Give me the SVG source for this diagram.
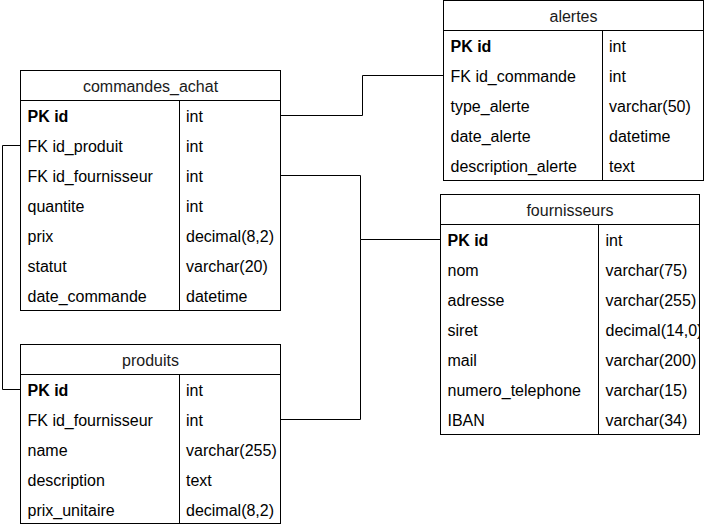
<svg xmlns="http://www.w3.org/2000/svg" width="705" height="525" viewBox="0 0 705 525">
<style>
.box{fill:#fff;stroke:#000;stroke-width:1}
.ln{fill:none;stroke:#000;stroke-width:1}
text{font-family:"Liberation Sans",Arial,sans-serif;font-size:16px;fill:#000}
.t{text-anchor:middle;fill:#1a1a1a}
.b{font-weight:bold}
.c{fill:none;stroke:#000;stroke-width:1}
</style>
<defs>
<clipPath id="clipF"><rect x="441" y="195" width="258" height="239"/></clipPath>
</defs>
<rect x="0" y="0" width="705" height="525" fill="#fff"/>
<g id="connectors">
<path class="c" d="M280.5 115.5 H362.5 V75.5 H443.5"/>
<path class="c" d="M280.5 175.5 H360.5 V239.5 H440.5"/>
<path class="c" d="M280.5 419.5 H360.5 V239.5"/>
<path class="c" d="M20.5 145.5 H2.5 V389.5 H20.5"/>
</g>
<g id="commandes_achat">
<rect class="box" x="20.5" y="70.5" width="260" height="240"/>
<line class="ln" x1="20.5" y1="100.5" x2="280.5" y2="100.5"/>
<line class="ln" x1="179.5" y1="100.5" x2="179.5" y2="310.5"/>
<text class="t" x="150.5" y="92">commandes_achat</text>
<text class="b" x="27.5" y="122">PK id</text><text x="186" y="122">int</text>
<text x="27.5" y="152">FK id_produit</text><text x="186" y="152">int</text>
<text x="27.5" y="182">FK id_fournisseur</text><text x="186" y="182">int</text>
<text x="27.5" y="212">quantite</text><text x="186" y="212">int</text>
<text x="27.5" y="242">prix</text><text x="186" y="242">decimal(8,2)</text>
<text x="27.5" y="272">statut</text><text x="186" y="272">varchar(20)</text>
<text x="27.5" y="302">date_commande</text><text x="186" y="302">datetime</text>
</g>
<g id="alertes">
<rect class="box" x="443.5" y="0.5" width="260" height="180"/>
<line class="ln" x1="443.5" y1="30.5" x2="703.5" y2="30.5"/>
<line class="ln" x1="602.5" y1="30.5" x2="602.5" y2="180.5"/>
<text class="t" x="573.5" y="22">alertes</text>
<text class="b" x="450.5" y="52">PK id</text><text x="609" y="52">int</text>
<text x="450.5" y="82">FK id_commande</text><text x="609" y="82">int</text>
<text x="450.5" y="112">type_alerte</text><text x="609" y="112">varchar(50)</text>
<text x="450.5" y="142">date_alerte</text><text x="609" y="142">datetime</text>
<text x="450.5" y="172">description_alerte</text><text x="609" y="172">text</text>
</g>
<g id="fournisseurs">
<rect class="box" x="440.5" y="194.5" width="259" height="240"/>
<line class="ln" x1="440.5" y1="224.5" x2="699.5" y2="224.5"/>
<line class="ln" x1="598.5" y1="224.5" x2="598.5" y2="434.5"/>
<text class="t" x="570" y="216">fournisseurs</text>
<g clip-path="url(#clipF)">
<text class="b" x="447.5" y="246">PK id</text><text x="605.5" y="246">int</text>
<text x="447.5" y="276">nom</text><text x="605.5" y="276">varchar(75)</text>
<text x="447.5" y="306">adresse</text><text x="605.5" y="306">varchar(255)</text>
<text x="447.5" y="336">siret</text><text x="605.5" y="336">decimal(14,0)</text>
<text x="447.5" y="366">mail</text><text x="605.5" y="366">varchar(200)</text>
<text x="447.5" y="396">numero_telephone</text><text x="605.5" y="396">varchar(15)</text>
<text x="447.5" y="426">IBAN</text><text x="605.5" y="426">varchar(34)</text>
</g>
</g>
<g id="produits">
<rect class="box" x="20.5" y="344.5" width="260" height="179"/>
<line class="ln" x1="20.5" y1="374.5" x2="280.5" y2="374.5"/>
<line class="ln" x1="179.5" y1="374.5" x2="179.5" y2="523.5"/>
<text class="t" x="150.5" y="366">produits</text>
<text class="b" x="27.5" y="396">PK id</text><text x="186" y="396">int</text>
<text x="27.5" y="426">FK id_fournisseur</text><text x="186" y="426">int</text>
<text x="27.5" y="456">name</text><text x="186" y="456">varchar(255)</text>
<text x="27.5" y="486">description</text><text x="186" y="486">text</text>
<text x="27.5" y="516">prix_unitaire</text><text x="186" y="516">decimal(8,2)</text>
</g>
</svg>
